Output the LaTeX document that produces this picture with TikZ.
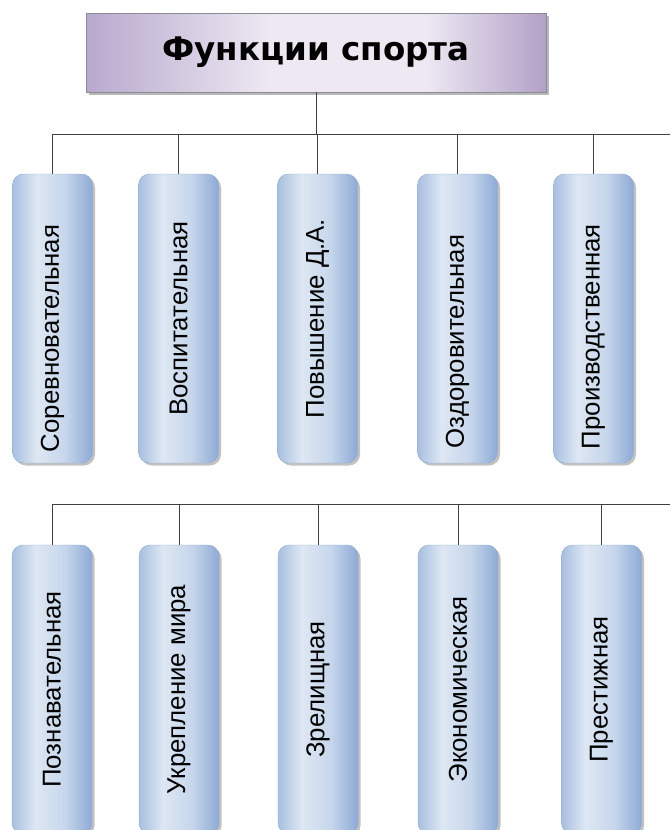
\documentclass[tikz,border=0pt]{standalone}
\usepackage{fontspec}
\setmainfont{Liberation Sans}
\newfontfamily\titlefont{DejaVu Sans}
\usetikzlibrary{shadows}
\definecolor{boxleft}{HTML}{A8BFDF}
\definecolor{boxlight}{HTML}{DEE7F3}
\definecolor{boxmid}{HTML}{C6D6EB}
\definecolor{boxright}{HTML}{8EAAD6}
\definecolor{boxline}{HTML}{8FA8CC}
\definecolor{titleleft}{HTML}{B8A9CD}
\definecolor{titlelight}{HTML}{EDE8F2}
\definecolor{titleright}{HTML}{B2A1C6}
\definecolor{titleline}{HTML}{8C8C96}
\definecolor{linkgray}{HTML}{404040}
\pgfdeclarehorizontalshading{boxshade}{100bp}{color(0bp)=(boxleft); color(25bp)=(boxleft); color(40bp)=(boxlight); color(58bp)=(boxmid); color(75bp)=(boxright); color(100bp)=(boxright)}
\pgfdeclarehorizontalshading{titleshade}{100bp}{color(0bp)=(titleleft); color(25bp)=(titleleft); color(45bp)=(titlelight); color(62bp)=(titlelight); color(75bp)=(titleright); color(100bp)=(titleright)}
\tikzset{
  titlebox/.style={draw=titleline, shading=titleshade, minimum width=460pt, minimum height=79pt,
    font=\titlefont\bfseries\fontsize{32.5}{36}\selectfont,
    drop shadow={shadow xshift=2.5pt, shadow yshift=-2.5pt, fill=gray!70, opacity=0.8}},
  funcbox/.style={draw=boxline, shading=boxshade, rounded corners=11pt, minimum width=80pt, minimum height=289pt,
    drop shadow={shadow xshift=2.5pt, shadow yshift=-2.5pt, fill=gray!60, opacity=0.8}},
  functext/.style={rotate=90, font=\fontsize{25.8}{30}\selectfont},
  link/.style={draw=linkgray, line width=1pt},
}
\begin{document}
\begin{tikzpicture}[x=1pt,y=-1pt]
\useasboundingbox (0,0) rectangle (670,830);
\clip (0,0) rectangle (670,830);
% title
\node[titlebox] (title) at (316,52.5) {Функции спорта};
% first row
\coordinate (busA) at (318,134);
\coordinate (busAend) at (670,134);
\node[funcbox] (a1) at (52.5,318.5) {};
\node[funcbox] (a2) at (178.5,318.5) {};
\node[funcbox] (a3) at (317.5,318.5) {};
\node[funcbox] (a4) at (457.5,318.5) {};
\node[funcbox] (a5) at (593.5,318.5) {};
\node[functext] (ta1) at ([yshift=-20pt]a1.center) {Соревновательная};
\node[functext] (ta2) at (a2.center) {Воспитательная};
\node[functext] (ta3) at (a3.center) {Повышение Д.А.};
\node[functext] (ta4) at ([yshift=-23pt]a4.center) {Оздоровительная};
\node[functext] (ta5) at ([yshift=-18pt]a5.center) {Производственная};
\draw[link] (title.south) -- (title.south |- busA);
\draw[link] (a1.north |- busA) -- (busAend);
\draw[link] (a1.north) -- (a1.north |- busA);
\draw[link] (a2.north) -- (a2.north |- busA);
\draw[link] (a3.north) -- (a3.north |- busA);
\draw[link] (a4.north) -- (a4.north |- busA);
\draw[link] (a5.north) -- (a5.north |- busA);
% second row
\coordinate (busB) at (318,504);
\coordinate (busBend) at (670,504);
\node[funcbox] (b1) at (52,689.5) {};
\node[funcbox] (b2) at (179,689.5) {};
\node[funcbox] (b3) at (318,689.5) {};
\node[funcbox] (b4) at (458,689.5) {};
\node[funcbox] (b5) at (601.5,689.5) {};
\node[functext] (tb1) at (b1.center) {Познавательная};
\node[functext] (tb2) at (b2.center) {Укрепление мира};
\node[functext] (tb3) at (b3.center) {Зрелищная};
\node[functext] (tb4) at (b4.center) {Экономическая};
\node[functext] (tb5) at (b5.center) {Престижная};
\draw[link] (b1.north |- busB) -- (busBend);
\draw[link] (b1.north) -- (b1.north |- busB);
\draw[link] (b2.north) -- (b2.north |- busB);
\draw[link] (b3.north) -- (b3.north |- busB);
\draw[link] (b4.north) -- (b4.north |- busB);
\draw[link] (b5.north) -- (b5.north |- busB);
\end{tikzpicture}
\end{document}
